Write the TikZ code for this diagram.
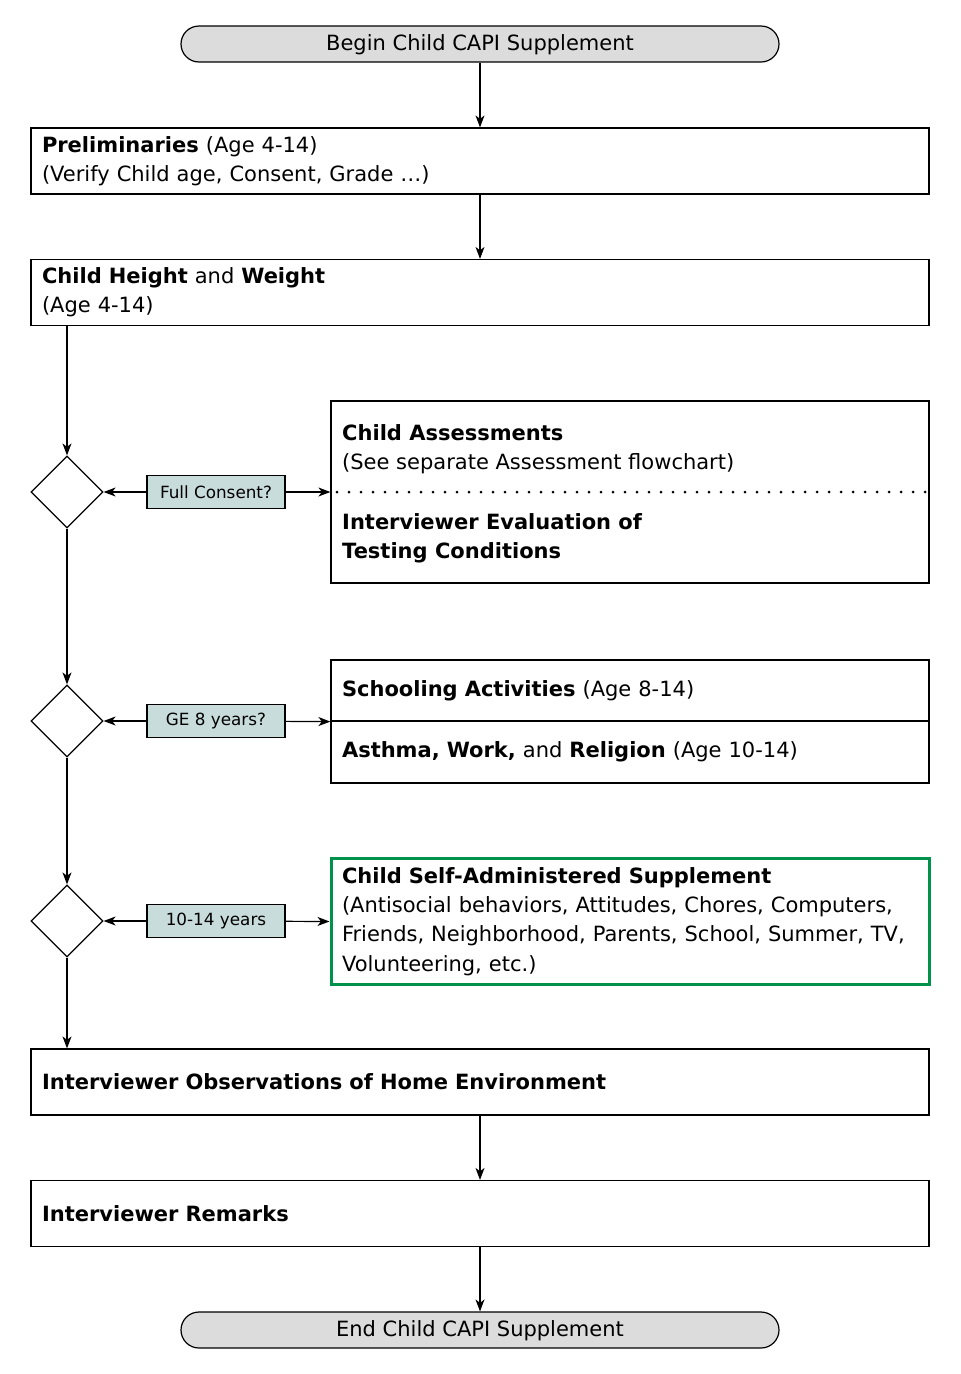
\documentclass[tikz,border=0pt]{standalone}
\usepackage{fontspec}
\setmainfont{DejaVu Sans}
\usetikzlibrary{arrows.meta,shapes.geometric}
\definecolor{termfill}{HTML}{DCDCDC}
\definecolor{labfill}{HTML}{C8DCDC}
\definecolor{selfgreen}{HTML}{00924A}
\begin{document}
\begin{tikzpicture}[x=1pt,y=-1pt,
  every node/.style={font=\fontsize{21}{29.3}\selectfont},
  term/.style={draw, fill=termfill, rounded corners=18pt, minimum width=598pt, minimum height=36pt, line width=1.2pt, inner sep=0pt, text height=16pt, text depth=3pt},
  widebox/.style={draw, line width=1.2pt, minimum width=898pt, text width=876pt, align=left, inner xsep=11pt, inner ysep=4pt, minimum height=66pt},
  rbox/.style={draw, line width=1.2pt, minimum width=598pt, text width=576pt, align=left, inner xsep=11pt, inner ysep=4pt},
  dec/.style={draw, diamond, aspect=1, minimum width=72pt, minimum height=72pt, inner sep=0pt, line width=1.2pt},
  lab/.style={draw, fill=labfill, minimum width=138pt, minimum height=33pt, inner sep=0pt, line width=1.2pt, font=\fontsize{16.8}{18}\selectfont},
  arr/.style={-{Stealth[length=12pt,width=9pt,inset=3.5pt]}, line width=1.2pt}
]
\useasboundingbox (0,0) rectangle (961,1374);

\node[term] (begin) at (480,44) {Begin Child CAPI Supplement};
\node[widebox] (prelim) at (480,161) {\textbf{Preliminaries} (Age 4-14)\\(Verify Child age, Consent, Grade \dots)};
\node[widebox] (hw) at (480,292.5) {\textbf{Child Height} and \textbf{Weight}\\(Age 4-14)};

\node[dec] (d1) at (67,492) {};
\node[dec] (d2) at (67,721) {};
\node[dec] (d3) at (67,921) {};

\node[lab] (l1) at (216,492) {Full Consent?};
\node[lab] (l2) at (216,721) {GE 8 years?};
\node[lab] (l3) at (216,921) {10-14 years};

\node[draw, line width=1.2pt, minimum width=598pt, minimum height=182pt] (assess) at (630,492) {};
\node[anchor=west, align=left, inner sep=0pt] (assesst) at (342,449) {\textbf{Child Assessments}\\(See separate Assessment flowchart)};
\node[anchor=west, align=left, inner sep=0pt] (evalt) at (342,538) {\textbf{Interviewer Evaluation of}\\\textbf{Testing Conditions}};
\coordinate (dotL) at (337,492);
\coordinate (dotR) at (927,492);
\draw[line width=3pt, line cap=round, dash pattern=on 0pt off 12pt] (dotL) -- (dotR);

\node[rbox, minimum height=61pt] (sch1) at (630,690.5) {\textbf{Schooling Activities} (Age 8-14)};
\node[rbox, minimum height=62pt] (sch2) at (630,752) {\textbf{Asthma, Work,} and \textbf{Religion} (Age 10-14)};

\node[rbox, draw=selfgreen, line width=3pt, minimum height=126pt] (self) at (630,921.5) {\textbf{Child Self-Administered Supplement}\\(Antisocial behaviors, Attitudes, Chores, Computers,\\Friends, Neighborhood, Parents, School, Summer, TV,\\Volunteering, etc.)};

\node[widebox] (obs) at (480,1082) {\textbf{Interviewer Observations of Home Environment}};
\node[widebox] (rem) at (480,1213.5) {\textbf{Interviewer Remarks}};
\node[term] (end) at (480,1330) {End Child CAPI Supplement};

\draw[arr] (begin) -- (prelim);
\draw[arr] (prelim) -- (hw);
\draw[arr] (hw.south -| d1.north) -- (d1.north);
\draw[arr] (d1.south) -- (d2.north);
\draw[arr] (d2.south) -- (d3.north);
\draw[arr] (d3.south) -- (d3.south |- obs.north);
\draw[arr] (l1) -- (d1.east);
\draw[arr] (l1) -- (assess.west);
\draw[arr] (l2) -- (d2.east);
\draw[arr] (l2) -- (sch1.south west);
\draw[arr] (l3) -- (d3.east);
\draw[arr] (l3) -- (self.west);
\draw[arr] (obs) -- (rem);
\draw[arr] (rem) -- (end);
\end{tikzpicture}
\end{document}
